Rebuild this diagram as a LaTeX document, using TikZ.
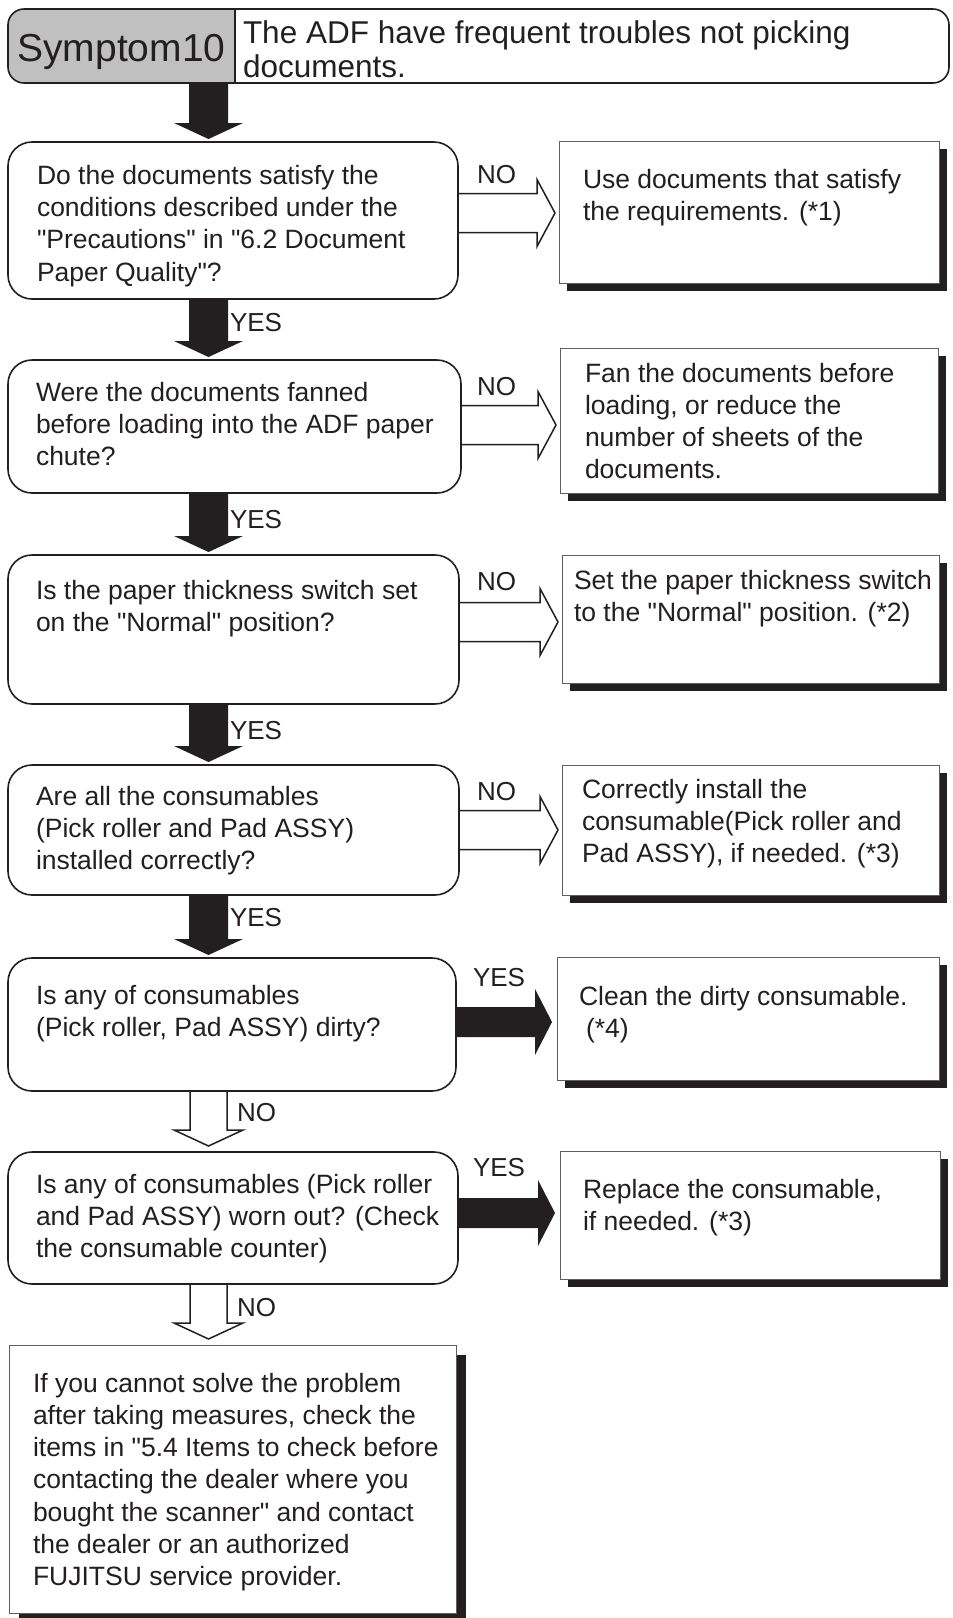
\documentclass[tikz,border=0pt]{standalone}
\usepackage{fontspec}
\setmainfont{Liberation Sans}
\newfontfamily\lsans{Liberation Sans}
\usetikzlibrary{calc,shadows}
\definecolor{ink}{RGB}{35,31,32}
\definecolor{hdrgray}{RGB}{192,192,192}
\definecolor{rborder}{RGB}{95,95,95}

\newcommand\BlackDown[2]{%
  \fill[ink] ($(#1.south -| ax)+(-19.5,0)$) -- ($(#2.north -| ax)+(-19.5,-19)$)
    -- ($(#2.north -| ax)+(-34.5,-19)$) -- ($(#2.north -| ax)+(0,-3)$)
    -- ($(#2.north -| ax)+(34.5,-19)$) -- ($(#2.north -| ax)+(19.5,-19)$)
    -- ($(#1.south -| ax)+(19.5,0)$) -- cycle;}
\newcommand\OpenDown[2]{%
  \draw[arrowline] ($(#1.south -| ax)+(-18.5,0)$) -- ($(#2.north -| ax)+(-18.5,-22)$)
    -- ($(#2.north -| ax)+(-34.5,-22)$) -- ($(#2.north -| ax)+(0,-6)$)
    -- ($(#2.north -| ax)+(34.5,-22)$) -- ($(#2.north -| ax)+(18.5,-22)$)
    -- ($(#1.south -| ax)+(18.5,0)$);}
\newcommand\OpenRight[3]{%
  \draw[arrowline] ($(#1.east |- #3)+(0,-19.5)$) -- ($(#2.west |- #3)+(-22,-19.5)$)
    -- ($(#2.west |- #3)+(-22,-33.5)$) -- ($(#2.west |- #3)+(-4,0)$)
    -- ($(#2.west |- #3)+(-22,33.5)$) -- ($(#2.west |- #3)+(-22,19.5)$)
    -- ($(#1.east |- #3)+(0,19.5)$);}
\newcommand\BlackRight[3]{%
  \fill[ink] ($(#1.east |- #3)+(0,-15)$) -- ($(#2.west |- #3)+(-22,-15)$)
    -- ($(#2.west |- #3)+(-22,-33)$) -- ($(#2.west |- #3)+(-5,0)$)
    -- ($(#2.west |- #3)+(-22,33)$) -- ($(#2.west |- #3)+(-22,15)$)
    -- ($(#1.east |- #3)+(0,15)$) -- cycle;}

\begin{document}
\begin{tikzpicture}[x=1pt,y=-1pt,
  every node/.style={inner sep=0pt,outer sep=0pt},
  txt/.style={anchor=base west,align=left,text=ink,font=\lsans\fontsize{26.5}{32.3}\selectfont},
  lbl/.style={anchor=base west,text=ink,font=\lsans\fontsize{26}{30}\selectfont},
  decbox/.style={draw=ink,line width=1.6pt,rounded corners=24pt,anchor=north west},
  actbox/.style={draw=rborder,line width=1pt,fill=white,anchor=north west,
    general shadow={shadow xshift=8pt,shadow yshift=-8pt,fill=ink,opacity=1}},
  finbox/.style={draw=rborder,line width=1pt,fill=white,anchor=north west,
    general shadow={shadow xshift=10pt,shadow yshift=-10pt,fill=ink,opacity=1}},
  arrowline/.style={draw=ink,line width=1.5pt,line join=miter}]
\useasboundingbox (0,0) rectangle (953,1618);
\fill[white] (0,0) rectangle (953,1618);

% header
\path node[minimum width=941pt,minimum height=74pt,anchor=north west] (hdr) at (8,9) {};
\path node[minimum width=227pt,minimum height=74pt,anchor=north west] (sym) at (8,9) {};
\begin{scope}
  \clip (sym.north west) rectangle (sym.south east);
  \fill[hdrgray,rounded corners=16pt] (hdr.north west) rectangle (hdr.south east);
\end{scope}
\draw[ink,line width=1.6pt,rounded corners=16pt] (hdr.north west) rectangle (hdr.south east);
\draw[ink,line width=1.2pt] (sym.north east) -- (sym.south east);
\node[anchor=base,text=ink,font=\lsans\fontsize{39}{42}\selectfont] (symtxt) at (121.5,61) {Symptom10};
\node[anchor=base west,align=left,text=ink,font=\lsans\fontsize{31.5}{34}\selectfont] (hdrtxt) at (243,77)
  {The ADF have frequent troubles not picking\\documents.};

% decision boxes
\node[decbox,minimum width=450pt,minimum height=157pt] (d1) at (8,142) {};
\node[decbox,minimum width=453pt,minimum height=133pt] (d2) at (8,360) {};
\node[decbox,minimum width=451pt,minimum height=149pt] (d3) at (8,555) {};
\node[decbox,minimum width=451pt,minimum height=130pt] (d4) at (8,765) {};
\node[decbox,minimum width=448pt,minimum height=133pt] (d5) at (8,958) {};
\node[decbox,minimum width=450pt,minimum height=132pt] (d6) at (8,1152) {};

% action boxes
\node[actbox,minimum width=380pt,minimum height=142pt] (r1) at (559,141) {};
\node[actbox,minimum width=378pt,minimum height=145pt] (r2) at (560,348) {};
\node[actbox,minimum width=377pt,minimum height=128pt] (r3) at (562,555) {};
\node[actbox,minimum width=377pt,minimum height=130pt] (r4) at (562,765) {};
\node[actbox,minimum width=382pt,minimum height=123pt] (r5) at (557,957) {};
\node[actbox,minimum width=380pt,minimum height=128pt] (r6) at (560,1151) {};
\node[finbox,minimum width=447pt,minimum height=268pt] (fin) at (9,1345) {};

% texts (positions are the baseline of the last line)
\node[txt] (t1) at (37,281) {Do the documents satisfy the\\conditions described under the\\"Precautions" in "6.2 Document\\Paper Quality"?};
\node[txt] (t2) at (36,465.6) {Were the documents fanned\\before loading into the ADF paper\\chute?};
\node[txt] (t3) at (36,631.3) {Is the paper thickness switch set\\on the "Normal" position?};
\node[txt] (t4) at (36,869.6) {Are all the consumables\\(Pick roller and Pad ASSY)\\installed correctly?};
\node[txt] (t5) at (36,1036.3) {Is any of consumables\\(Pick roller, Pad ASSY) dirty?};
\node[txt] (t6) at (36,1257.6) {Is any of consumables (Pick roller\\and Pad ASSY) worn out? (Check\\the consumable counter)};
\node[txt] (tf) at (33,1585.8) {If you cannot solve the problem\\after taking measures, check the\\items in "5.4 Items to check before\\contacting the dealer where you\\bought the scanner" and contact\\the dealer or an authorized\\FUJITSU service provider.};
\node[txt] (s1) at (583,220.3) {Use documents that satisfy\\the requirements. (*1)};
\node[txt] (s2) at (585,478.9) {Fan the documents before\\loading, or reduce the\\number of sheets of the\\documents.};
\node[txt] (s3) at (574,621.3) {Set the paper thickness switch\\to the "Normal" position. (*2)};
\node[txt] (s4) at (582,862.6) {Correctly install the\\consumable(Pick roller and\\Pad ASSY), if needed. (*3)};
\node[txt] (s5) at (579,1037.3) {Clean the dirty consumable.\\\hspace*{7pt}(*4)};
\node[txt] (s6) at (583,1230.3) {Replace the consumable,\\if needed. (*3)};

% arrows
\coordinate (ax) at (208.5,0);
\coordinate (y1) at (0,213);
\coordinate (y2) at (0,425);
\coordinate (y3) at (0,622);
\coordinate (y4) at (0,830);
\coordinate (y5) at (0,1022);
\coordinate (y6) at (0,1213);

\BlackDown{hdr}{d1}
\BlackDown{d1}{d2}
\BlackDown{d2}{d3}
\BlackDown{d3}{d4}
\BlackDown{d4}{d5}
\OpenDown{d5}{d6}
\OpenDown{d6}{fin}

\OpenRight{d1}{r1}{y1}
\OpenRight{d2}{r2}{y2}
\OpenRight{d3}{r3}{y3}
\OpenRight{d4}{r4}{y4}
\BlackRight{d5}{r5}{y5}
\BlackRight{d6}{r6}{y6}

% labels
\node[lbl] (l1) at (230,331) {YES};
\node[lbl] (l2) at (230,528) {YES};
\node[lbl] (l3) at (230,739) {YES};
\node[lbl] (l4) at (230,926) {YES};
\node[lbl] (l5) at (237,1121) {NO};
\node[lbl] (l6) at (237,1316) {NO};
\node[lbl] (n1) at (477,183) {NO};
\node[lbl] (n2) at (477,395) {NO};
\node[lbl] (n3) at (477,590) {NO};
\node[lbl] (n4) at (477,800) {NO};
\node[lbl] (n5) at (473,986) {YES};
\node[lbl] (n6) at (473,1176) {YES};
\end{tikzpicture}
\end{document}
